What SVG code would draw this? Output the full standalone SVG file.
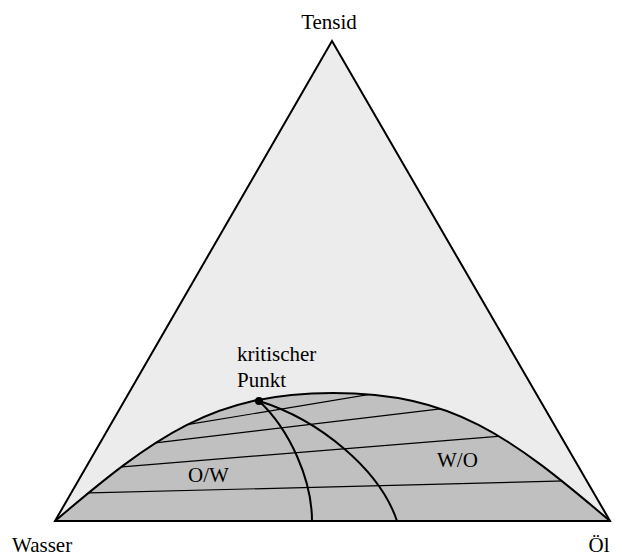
<svg xmlns="http://www.w3.org/2000/svg" width="622" height="556" viewBox="0 0 622 556">
<style>
text{font-family:"Liberation Serif","DejaVu Serif",serif;font-size:21px;fill:#000}
.thick{fill:none;stroke:#000;stroke-width:2}
.tie{fill:none;stroke:#000;stroke-width:1.2}
</style>
<defs>
<clipPath id="region">
<path d="M55,521 C155,436 213,393 333,393 C453,393 510,436 610,521 Z"/>
</clipPath>
</defs>
<rect width="622" height="556" fill="#fff"/>
<g id="triangle">
<polygon points="332,41 55,521 610,521" fill="#ececec" stroke="#000" stroke-width="2"/>
</g>
<g id="two-phase-region">
<path d="M55,521 C155,436 213,393 333,393 C453,393 510,436 610,521 Z" fill="#c0c0c0"/>
</g>
<g id="connectors">
<g clip-path="url(#region)">
<line class="tie" x1="80" y1="493.2" x2="575" y2="480.7"/>
<line class="tie" x1="110" y1="467.8" x2="515" y2="434.9"/>
<line class="tie" x1="145" y1="444.2" x2="455" y2="407.2"/>
<line class="tie" x1="175" y1="426.7" x2="390" y2="391"/>
</g>
<path class="thick" d="M55,521 C155,436 213,393 333,393 C453,393 510,436 610,521"/>
<path class="thick" d="M259,401 C290,430 312,480 312,521"/>
<path class="thick" d="M259,401 C320,420 380,470 397,521"/>
<line x1="55" y1="521" x2="610" y2="521" stroke="#000" stroke-width="2"/>
</g>
<g id="critical-point">
<circle cx="259" cy="401" r="4" fill="#000"/>
<text x="237" y="361">kritischer</text>
<text x="237" y="387">Punkt</text>
</g>
<g id="tensid"><text x="329" y="29" text-anchor="middle">Tensid</text></g>
<g id="wasser"><text x="12" y="552">Wasser</text></g>
<g id="oel"><text x="599" y="552" text-anchor="middle">Öl</text></g>
<g id="ow"><text x="188" y="482">O/W</text></g>
<g id="wo"><text x="437" y="467">W/O</text></g>
</svg>
